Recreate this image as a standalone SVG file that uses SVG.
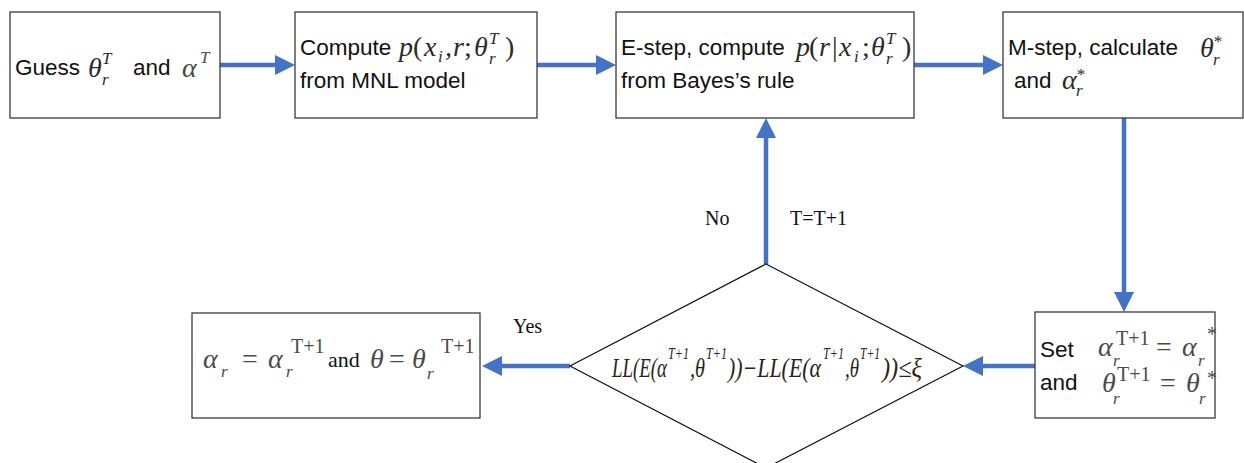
<svg xmlns="http://www.w3.org/2000/svg" width="1244" height="463" viewBox="0 0 1244 463">
  <style>
    .box { fill: #ffffff; stroke: #3a3a3a; stroke-width: 1.3; }
    .dia { fill: #ffffff; stroke: #111111; stroke-width: 1.2; }
    .lbl { font-family: "Liberation Sans", Arial, sans-serif; font-size: 22.5px; fill: #111111; }
    .m { font-family: "Liberation Serif", "Times New Roman", serif; font-style: italic; font-size: 28px; fill: #2b2b2b; }
    .mu { font-family: "Liberation Serif", "Times New Roman", serif; font-style: normal; font-size: 28px; fill: #2b2b2b; }
    .lm { font-family: "Liberation Serif", "Times New Roman", serif; font-style: italic; font-size: 28px; fill: #4a4a4a; }
    .lmu { font-family: "Liberation Serif", "Times New Roman", serif; font-style: normal; font-size: 28px; fill: #4a4a4a; }
    .tn { font-family: "Liberation Serif", "Times New Roman", serif; font-size: 20px; fill: #111111; }
    .cn { fill: none; stroke: #4472C4; stroke-width: 4.5; }
    .f { font-family: "Liberation Serif", "Times New Roman", serif; font-style: italic; font-size: 27px; fill: #2a2418; }
    .fs { font-family: "Liberation Serif", "Times New Roman", serif; font-style: italic; font-size: 16px; fill: #2a2418; }
    text.sm { font-size: 17px; }
    text.sup { font-size: 20px; }
  </style>
  <defs>
    <marker id="head" markerUnits="userSpaceOnUse" markerWidth="20" markerHeight="20" refX="0" refY="10" orient="auto">
      <path d="M0,0 L20,10 L0,20 Z" fill="#4472C4"/>
    </marker>
  </defs>

  <!-- Connectors -->
  <g id="connectors">
    <line class="cn" x1="218" y1="65" x2="275" y2="65" marker-end="url(#head)"/>
    <line class="cn" x1="537" y1="65" x2="596" y2="65" marker-end="url(#head)"/>
    <line class="cn" x1="914" y1="65" x2="983" y2="65" marker-end="url(#head)"/>
    <line class="cn" x1="1124" y1="118" x2="1124" y2="292" marker-end="url(#head)"/>
    <line class="cn" x1="1035" y1="366" x2="983" y2="366" marker-end="url(#head)"/>
    <line class="cn" x1="766" y1="264" x2="766" y2="138" marker-end="url(#head)"/>
    <line class="cn" x1="570" y1="366" x2="502" y2="366" marker-end="url(#head)"/>
  </g>

  <!-- Initial guess -->
  <g id="guess">
    <rect class="box" x="10" y="12" width="210" height="106"/>
    <text class="lbl" x="15" y="75">Guess</text>
    <text class="m" x="88" y="77">θ</text>
    <text class="m sm" x="102" y="85">r</text>
    <text class="m sm" x="102" y="64">T</text>
    <text class="lbl" x="133" y="75">and</text>
    <text class="lm" x="182" y="77">α</text>
    <text class="lm sm" x="200" y="63">T</text>
  </g>

  <!-- MNL model -->
  <g id="mnl">
    <rect class="box" x="295" y="12" width="242" height="106"/>
    <text class="lbl" x="300" y="55">Compute</text>
    <text class="m" x="399" y="56">p</text>
    <text class="mu" x="413" y="56">(</text>
    <text class="m" x="424" y="56">x</text>
    <text class="m sm" x="438" y="62">i</text>
    <text class="m" x="445" y="56">,</text>
    <text class="m" x="453" y="56">r</text>
    <text class="mu" x="464" y="56">;</text>
    <text class="m" x="474" y="56">θ</text>
    <text class="m sm" x="489" y="64">r</text>
    <text class="m sm" x="489" y="44">T</text>
    <text class="mu" x="505" y="56">)</text>
    <text class="lbl" x="300" y="88">from MNL model</text>
  </g>

  <!-- E-step -->
  <g id="estep">
    <rect class="box" x="616" y="12" width="298" height="106"/>
    <text class="lbl" x="621" y="55">E-step, compute</text>
    <text class="m" x="796" y="56">p</text>
    <text class="mu" x="809" y="56">(</text>
    <text class="m" x="819" y="56">r</text>
    <text class="mu" x="832" y="56">|</text>
    <text class="m" x="839" y="56">x</text>
    <text class="m sm" x="854" y="62">i</text>
    <text class="mu" x="862" y="56">;</text>
    <text class="m" x="871" y="56">θ</text>
    <text class="m sm" x="886" y="64">r</text>
    <text class="m sm" x="886" y="44">T</text>
    <text class="mu" x="902" y="56">)</text>
    <text class="lbl" x="621" y="88">from Bayes’s rule</text>
  </g>

  <!-- M-step -->
  <g id="mstep">
    <rect class="box" x="1003" y="12" width="240" height="106"/>
    <text class="lbl" x="1008" y="55">M-step, calculate</text>
    <text class="m" x="1200" y="57">θ</text>
    <text class="m sm" x="1213" y="65">r</text>
    <text class="m sm" x="1213" y="47">*</text>
    <text class="lbl" x="1014" y="88">and</text>
    <text class="m" x="1062" y="89">α</text>
    <text class="m sm" x="1076" y="96">r</text>
    <text class="m sm" x="1076" y="80">*</text>
  </g>

  <!-- Parameter update -->
  <g id="update">
    <rect class="box" x="1035" y="312" width="180" height="106"/>
    <text class="lbl" x="1040" y="357">Set</text>
    <text class="lbl" x="1040" y="390">and</text>
    <text class="lm" x="1098" y="356">α</text>
    <text class="lm sm" x="1113" y="366">r</text>
    <text class="lmu sup" x="1116" y="345">T+1</text>
    <text class="lmu" x="1156" y="356">=</text>
    <text class="lm" x="1182" y="356">α</text>
    <text class="lm sm" x="1198" y="366">r</text>
    <text class="lmu sup" x="1207" y="341">*</text>
    <text class="lm" x="1102" y="392">θ</text>
    <text class="lm sm" x="1113" y="404">r</text>
    <text class="lmu sup" x="1117" y="381">T+1</text>
    <text class="lmu" x="1160" y="392">=</text>
    <text class="lm" x="1186" y="392">θ</text>
    <text class="lm sm" x="1199" y="404">r</text>
    <text class="lmu sup" x="1207" y="385">*</text>
  </g>

  <!-- Convergence test: diamond with the log-likelihood criterion -->
  <g id="test">
    <polygon class="dia" points="766,264 963,366 766,468 570,366"/>
    <text class="f" x="612" y="377" textLength="55" lengthAdjust="spacingAndGlyphs">LL(E(α</text>
    <text class="fs" x="668" y="359" textLength="21" lengthAdjust="spacingAndGlyphs">T+1</text>
    <text class="f" x="690" y="377" textLength="15" lengthAdjust="spacingAndGlyphs">,θ</text>
    <text class="fs" x="706" y="359" textLength="21" lengthAdjust="spacingAndGlyphs">T+1</text>
    <text class="f" x="728" y="377" textLength="93" lengthAdjust="spacingAndGlyphs">))−LL(E(α</text>
    <text class="fs" x="823" y="359" textLength="21" lengthAdjust="spacingAndGlyphs">T+1</text>
    <text class="f" x="845" y="377" textLength="14" lengthAdjust="spacingAndGlyphs">,θ</text>
    <text class="fs" x="860" y="359" textLength="20" lengthAdjust="spacingAndGlyphs">T+1</text>
    <text class="f" x="882" y="377" textLength="40" lengthAdjust="spacingAndGlyphs">))≤ξ</text>
  </g>

  <!-- Final estimates -->
  <g id="result">
    <rect class="box" x="192" y="313" width="288" height="105"/>
    <text class="lm" x="203" y="368">α</text>
    <text class="lm sm" x="221" y="377">r</text>
    <text class="lmu" x="242" y="368">=</text>
    <text class="lm" x="268" y="368">α</text>
    <text class="lm sm" x="286" y="377">r</text>
    <text class="lmu sup" x="291" y="353">T+1</text>
    <text class="tn" x="328" y="367" style="font-size:22px">and</text>
    <text class="lm" x="370" y="368">θ</text>
    <text class="lmu" x="389" y="368">=</text>
    <text class="lm" x="412" y="368">θ</text>
    <text class="lm sm" x="427" y="379">r</text>
    <text class="lmu sup" x="441" y="353">T+1</text>
  </g>

  <!-- Branch labels -->
  <g id="labels">
    <text class="tn" x="705" y="225">No</text>
    <text class="tn" x="790" y="225">T=T+1</text>
    <text class="tn" x="513" y="333">Yes</text>
  </g>
</svg>
